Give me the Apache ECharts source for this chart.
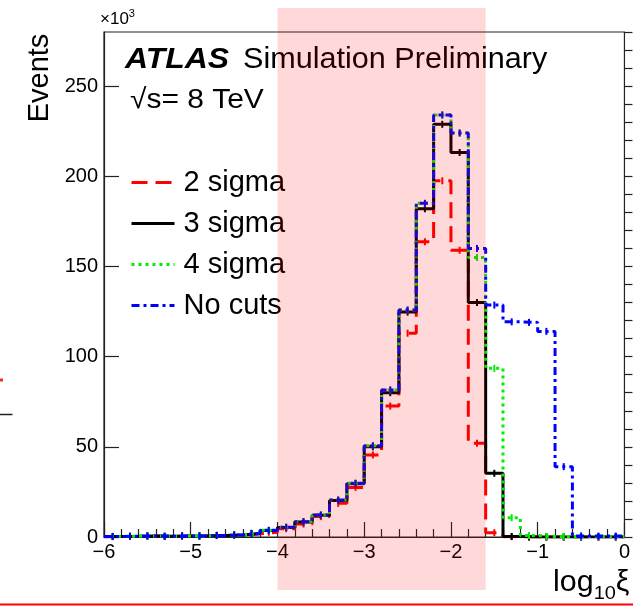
<!DOCTYPE html>
<html>
<head>
<meta charset="utf-8">
<script src="https://cdn.jsdelivr.net/npm/echarts@6/dist/echarts.min.js"></script>
<style>
html,body{margin:0;padding:0;background:#fff;}
#chart{width:633px;height:607px;}
</style>
</head>
<body>
<div id="chart"></div>
<script>
// Bin edges of log10(xi) histogram (30 bins of width 0.2)
const binEdges = [-6.0,-5.8,-5.6,-5.4,-5.2,-5.0,-4.8,-4.6,-4.4,-4.2,-4.0,-3.8,-3.6,-3.4,-3.2,-3.0,-2.8,-2.6,-2.4,-2.2,-2.0,-1.8,-1.6,-1.4,-1.2,-1.0,-0.8,-0.6,-0.4,-0.2,0.0];
// Events (x10^3) per bin
const sigma2 = [0.2,0.3,0.5,0.3,0.5,0.5,0.8,1.0,1.8,2.6,4.6,7.2,11.3,18.7,27.5,45.5,72.6,113.0,163.7,197.5,159.0,52.0,2.4,0.2,0,0,0,0,0,0];
const sigma3 = [0.3,0.4,0.6,0.4,0.6,0.6,0.9,1.1,2.0,3.6,5.3,8.3,12.0,20.2,29.5,50.0,80.0,124.7,182.0,228.8,213.2,130.0,35.3,0.3,0,0,0,0,0,0];
const sigma4 = [0.3,0.4,0.6,0.4,0.6,0.6,0.9,1.2,2.0,3.7,5.4,8.5,12.2,20.5,29.8,50.6,81.5,125.8,185.0,234.0,224.0,155.0,93.5,10.7,0.8,0.3,0.3,0.3,0.3,0.3];
const noCuts = [0.3,0.4,0.6,0.4,0.6,0.6,0.9,1.2,2.0,3.7,5.4,8.5,12.2,20.5,29.8,50.6,81.5,125.8,185.0,234.0,224.0,160.0,128.6,119.3,119.0,114.0,39.0,0.6,0.5,0.5];
const seriesNames = ['2 sigma','3 sigma','4 sigma','No cuts'];
const xTicks = [-6,-5,-4,-3,-2,-1,0];
const yTicks = [0,50,100,150,200,250];
const bandRange = [-4.0,-1.6];

const FONT = 'Liberation Sans, Arial, Helvetica, sans-serif';
const chart = echarts.init(document.getElementById('chart'), null, {renderer:'canvas'});

function stepData(vals){
  const d = vals.map((v,i)=>[binEdges[i], v]);
  d.push([binEdges[binEdges.length-1], vals[vals.length-1]]);
  return d;
}
function errData(vals){
  return vals.map((v,i)=>[(binEdges[i]+binEdges[i+1])/2, v]);
}
const styles = [
  {color:'#ff0000', type:[16,8]},
  {color:'#000000', type:'solid'},
  {color:'#00ee00', type:[3,4]},
  {color:'#0000ff', type:[8,4,3,4]}
];
const allVals = [sigma2, sigma3, sigma4, noCuts];
const series = [];
allVals.forEach((vals,k)=>{
  series.push({
    name: seriesNames[k], type:'line', step:'end', symbol:'none', showSymbol:false, silent:true,
    data: stepData(vals), z: 2+k*2,
    lineStyle:{color:styles[k].color, width:3, type:styles[k].type},
    itemStyle:{color:styles[k].color}
  });
  series.push({
    name: seriesNames[k]+' err', type:'custom', silent:true, z: 3+k*2,
    data: errData(vals),
    renderItem: function(params, api){
      const p = api.coord([api.value(0), api.value(1)]);
      return {type:'line', shape:{x1:p[0], y1:p[1]-3.5, x2:p[0], y2:p[1]+3.5},
              style:{stroke:styles[k].color, lineWidth:2}};
    }
  });
});

const minus = s => String(s).replace('-', '\u2212');

chart.setOption({
  animation:false,
  backgroundColor:'#fff',
  textStyle:{fontFamily:FONT},
  grid:{left:104, right:3, top:32, bottom:70, show:true, borderColor:'#222', borderWidth:1.2, backgroundColor:'transparent'},
  legend:{
    data: seriesNames, orient:'vertical', left:130, top:168,
    itemWidth:43, itemHeight:14, itemGap:12, padding:0,
    itemStyle:{color:'rgba(0,0,0,0)', borderColor:'rgba(0,0,0,0)', borderWidth:0, opacity:0},
    lineStyle:{width:3},
    textStyle:{fontFamily:FONT, fontSize:29, color:'#000', padding:[0,0,0,4]},
    selectedMode:false
  },
  xAxis:{
    type:'value', min:xTicks[0], max:xTicks[xTicks.length-1], interval:1,
    axisLine:{show:true, onZero:false, lineStyle:{color:'#222', width:1.2}},
    axisTick:{show:true, inside:true, length:15, lineStyle:{color:'#222', width:1.2}},
    minorTick:{show:true, splitNumber:5, length:8, lineStyle:{color:'#222', width:1.2}},
    splitLine:{show:false},
    axisLabel:{fontFamily:FONT, fontSize:20, color:'#000', margin:5, formatter:v=>minus(v)}
  },
  yAxis:[{
    type:'value', min:0, max:280, interval:50, position:'left',
    axisLine:{show:true, onZero:false, lineStyle:{color:'#222', width:1.2}},
    axisTick:{show:true, inside:true, length:15, lineStyle:{color:'#222', width:1.2}},
    splitLine:{show:false},
    axisLabel:{fontFamily:FONT, fontSize:20, color:'#000', margin:6, showMaxLabel:false,
      formatter:v=> yTicks.indexOf(v)>=0 ? String(v) : ''}
  },{
    type:'value', min:0, max:280, interval:10, position:'left', offset:0,
    axisLine:{show:false},
    axisTick:{show:true, inside:true, length:8, lineStyle:{color:'#222', width:1.2}},
    splitLine:{show:false},
    axisLabel:{show:false}
  }],
  series: series
});

const xl = chart.convertToPixel({xAxisIndex:0}, bandRange[0]);
const xr = chart.convertToPixel({xAxisIndex:0}, bandRange[1]);

chart.setOption({
  graphic:[
    {type:'text', x:125, y:60, z:50, scaleX:1.1,
      style:{text:'ATLAS', font:'italic bold 29px '+FONT, fill:'#000', verticalAlign:'middle'}},
    {type:'text', x:243, y:60, z:50, scaleX:1.055,
      style:{text:'Simulation Preliminary', font:'29px '+FONT, fill:'#000', verticalAlign:'middle'}},
    {type:'text', x:130, y:100, z:50, scaleX:1.07,
      style:{text:'\u221As= 8 TeV', font:'28px '+FONT, fill:'#000', verticalAlign:'middle'}},
    {type:'text', x:40, y:78, rotation:Math.PI/2, z:50,
      style:{text:'Events', font:'29px '+FONT, fill:'#000', align:'center', verticalAlign:'middle'}},
    {type:'text', x:100, y:19, z:50,
      style:{text:'\u00D710{s|3}', font:'17px '+FONT, fill:'#000', verticalAlign:'middle',
        rich:{s:{fontSize:11, fontFamily:FONT, verticalAlign:'top', padding:[0,0,10,0]}}}},
    {type:'text', x:553, y:583, z:50, scaleX:1.05,
      style:{text:'log{sub|10}\u03BE', font:'29px '+FONT, fill:'#000', verticalAlign:'middle',
        rich:{sub:{fontSize:19, fontFamily:FONT, padding:[22,0,0,0]}}}},
    {type:'rect', z:100, silent:true,
      shape:{x:xl, y:8, width:xr-xl, height:582},
      style:{fill:'rgba(255,0,0,0.15)'}},
    {type:'line', z:100, silent:true,
      shape:{x1:0, y1:604.5, x2:633, y2:604.5}, style:{stroke:'#ff0000', lineWidth:2}},
    {type:'line', z:100, silent:true,
      shape:{x1:0, y1:380, x2:3, y2:380}, style:{stroke:'#ee3322', lineWidth:3}},
    {type:'line', z:100, silent:true,
      shape:{x1:0, y1:414.5, x2:12.5, y2:414.5}, style:{stroke:'#222', lineWidth:1.5}}
  ]
});
</script>
</body>
</html>
